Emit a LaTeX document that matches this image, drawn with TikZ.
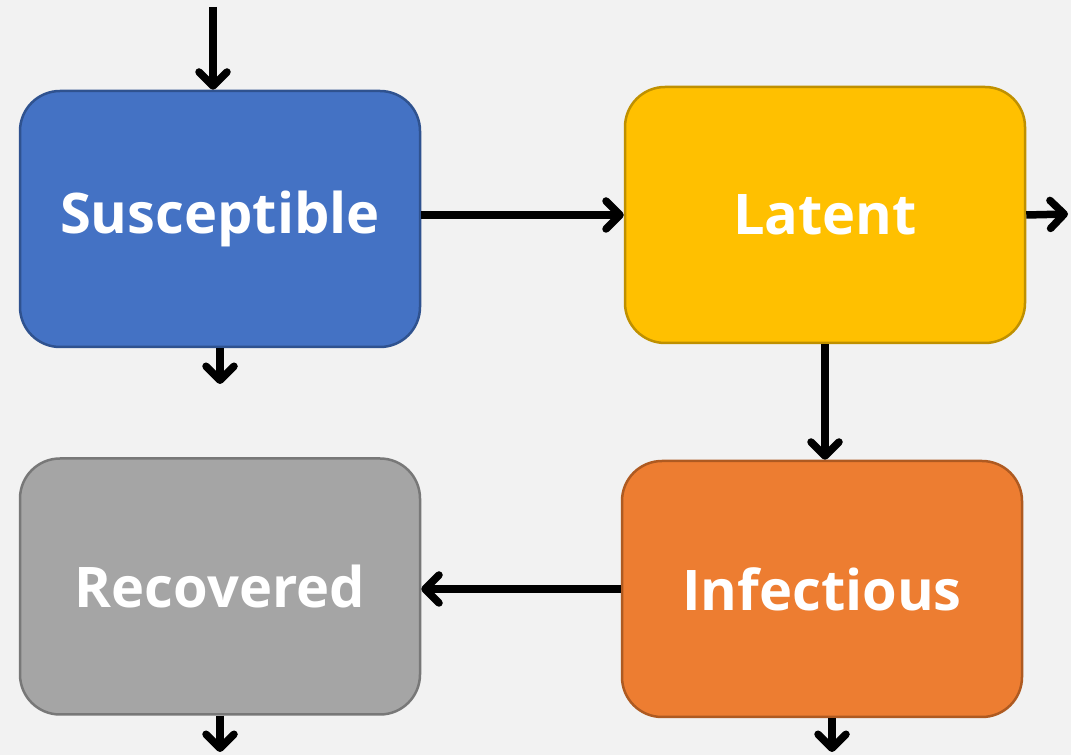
\documentclass[tikz,border=0pt]{standalone}
\usepackage{fontspec}
\setmainfont{Open Sans}
\usetikzlibrary{arrows.meta}
\definecolor{bg}{HTML}{F2F2F2}
\definecolor{sfill}{HTML}{4472C4}\definecolor{sdraw}{HTML}{2F528F}
\definecolor{lfill}{HTML}{FFC000}\definecolor{ldraw}{HTML}{BF9000}
\definecolor{ifill}{HTML}{ED7D31}\definecolor{idraw}{HTML}{AE5A21}
\definecolor{rfill}{HTML}{A5A5A5}\definecolor{rdraw}{HTML}{787878}
\tikzset{
  compbox/.style={rounded corners=40pt, minimum width=400pt, minimum height=256pt,
    line width=2.5pt, text=white, font=\fontsize{56}{62}\selectfont\bfseries, inner sep=0pt},
  flow/.style={line width=7.5pt, -{Straight Barb[length=14pt,width=28pt,line cap=round,line join=round]}}
}
\begin{document}
\begin{tikzpicture}[x=1pt,y=1pt]
\fill[bg] (0,0) rectangle (1071,755);
\useasboundingbox (0,0) rectangle (1071,755);
\node[compbox, fill=sfill, draw=sdraw] (sus) at (220,536) {Susceptible};
\node[compbox, fill=lfill, draw=ldraw] (lat) at (825,540) {Latent};
\node[compbox, fill=ifill, draw=idraw] (inf) at (822,166) {Infectious};
\node[compbox, fill=rfill, draw=rdraw] (rec) at (220,168.5) {Recovered};
\coordinate (top) at (213,748);
\coordinate (latout) at (1068,541);
\coordinate (susout) at (220,371);
\coordinate (recout) at (220,3);
\coordinate (infout) at (832,3);
\draw[flow] (top) -- (top |- sus.north);
\draw[flow] (lat.west -| sus.east) -- (lat.west);
\draw[flow] (lat.east) -- (latout);
\draw[flow] (sus.south) -- (susout);
\draw[flow] (lat.south) -- (lat.south |- inf.north);
\draw[flow] (inf.west) -- (inf.west -| rec.east);
\draw[flow] (rec.south) -- (recout);
\draw[flow] (infout |- inf.south) -- (infout);
\end{tikzpicture}
\end{document}
